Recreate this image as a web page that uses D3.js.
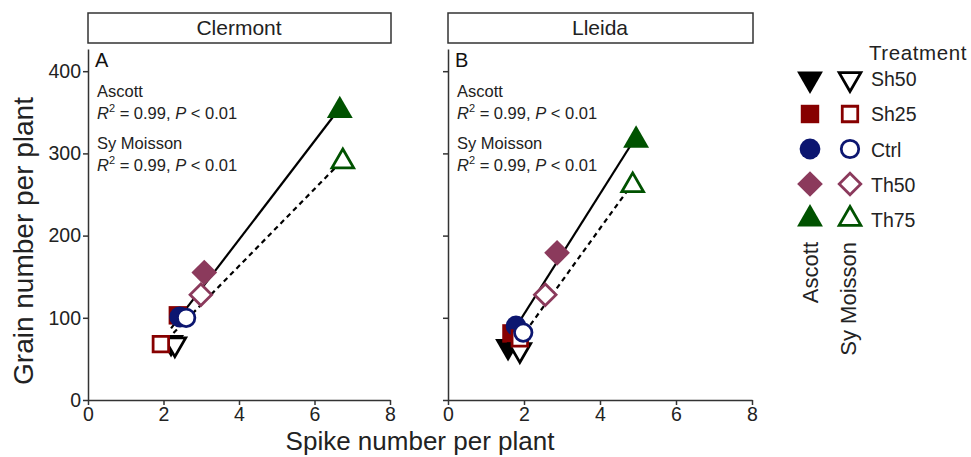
<!DOCTYPE html>
<html>
<head>
<meta charset="utf-8">
<script src="https://cdn.jsdelivr.net/npm/d3@7"></script>
<style>
  body { margin: 0; background: #fff; }
  svg { font-family: "Liberation Sans", Arial, sans-serif; }
  .axis path, .axis line { stroke: #333; stroke-width: 1.5px; }
  .axis text { font-size: 19.5px; fill: #222; font-family: "Liberation Sans", Arial, sans-serif; }
</style>
</head>
<body>
<svg width="971" height="457"></svg>
<script>
// data
const sites = ["Clermont", "Lleida"];
const panelTags = ["A", "B"];
const treatments = ["Sh50", "Sh25", "Ctrl", "Th50", "Th75"];
const cultivars = ["Ascott", "Sy Moisson"];
const treatColors = ["#000000", "#870000", "#0c1670", "#8b3a5c", "#005200"];

// spike number per plant [site][cultivar][treatment]
const spikes = [
  [[2.2, 2.38, 2.43, 3.08, 6.67], [2.3, 1.93, 2.6, 2.99, 6.75]],
  [[1.58, 1.67, 1.79, 2.87, 4.95], [1.89, 1.89, 1.98, 2.56, 4.86]]
];
// grain number per plant [site][cultivar][treatment]
const grains = [
  [[70, 103, 101, 155, 352], [68, 68, 100, 128, 290]],
  [[65, 81, 90, 179, 316], [61, 75, 82, 128, 261]]
];
const statLabel = "= 0.99, ";

const svg = d3.select("svg");
const panelX = [[88, 390], [448, 752]];
const y = d3.scaleLinear().domain([0, 427]).range([400, 49]);
const xTicks = [0, 2, 4, 6, 8];
const yTicks = [0, 100, 200, 300, 400];

function shape(t) {
  if (t === 0) return d3.symbol().type(d3.symbolTriangle).size(290)();
  if (t === 1) return d3.symbol().type(d3.symbolSquare).size(340)();
  if (t === 2) return d3.symbol().type(d3.symbolCircle).size(340)();
  if (t === 3) return d3.symbol().type(d3.symbolSquare).size(330)();
  return d3.symbol().type(d3.symbolTriangle).size(290)();
}
function rot(t) { return t === 0 ? 180 : (t === 3 ? 45 : 0); }

function drawMark(g, cx, cy, t, open) {
  g.append("path")
    .attr("d", shape(t))
    .attr("transform", `translate(${cx},${cy}) rotate(${rot(t)}) scale(${open ? 0.84 : 1})`)
    .attr("fill", open ? "#fff" : treatColors[t])
    .attr("stroke", treatColors[t])
    .attr("stroke-width", open ? 3.3 : 0);
}

function fit(xs, ys) {
  const mx = d3.mean(xs), my = d3.mean(ys);
  let sxy = 0, sxx = 0;
  xs.forEach((v, i) => { sxy += (v - mx) * (ys[i] - my); sxx += (v - mx) * (v - mx); });
  const b = sxy / sxx;
  return { a: my - b * mx, b: b };
}

sites.forEach((site, s) => {
  const x = d3.scaleLinear().domain([0, 8]).range(panelX[s]);
  const g = svg.append("g");

  // strip
  g.append("rect")
    .attr("x", panelX[s][0]).attr("y", 13)
    .attr("width", panelX[s][1] - panelX[s][0] + 1).attr("height", 30)
    .attr("fill", "#fff").attr("stroke", "#333").attr("stroke-width", 1.5);
  g.append("text")
    .attr("x", (panelX[s][0] + panelX[s][1]) / 2).attr("y", 35)
    .attr("text-anchor", "middle").attr("font-size", 21).attr("fill", "#222")
    .text(site);

  // axes
  g.append("g").attr("class", "axis")
    .attr("transform", "translate(0,400)")
    .call(d3.axisBottom(x).tickValues(xTicks).tickSize(5).tickSizeOuter(0).tickPadding(2));
  const ya = g.append("g").attr("class", "axis")
    .attr("transform", `translate(${panelX[s][0]},0)`)
    .call(d3.axisLeft(y).tickValues(yTicks).tickSize(5).tickSizeOuter(0).tickPadding(2));
  if (s === 1) ya.selectAll("text").remove();

  // regression lines
  cultivars.forEach((c, k) => {
    const f = fit(spikes[s][k], grains[s][k]);
    const ext = d3.extent(spikes[s][k]);
    g.append("line")
      .attr("x1", x(ext[0])).attr("y1", y(f.a + f.b * ext[0]))
      .attr("x2", x(ext[1])).attr("y2", y(f.a + f.b * ext[1]))
      .attr("stroke", "#000").attr("stroke-width", 2.2)
      .attr("stroke-dasharray", k === 1 ? "5,4" : null);
  });

  // points
  cultivars.forEach((c, k) => {
    treatments.forEach((t, i) => {
      drawMark(g, x(spikes[s][k][i]), y(grains[s][k][i]), i, k === 1);
    });
  });

  // annotations
  const tx = panelX[s][0] + 7;
  g.append("text").attr("x", tx).attr("y", 67).attr("font-size", 20).attr("fill", "#111").text(panelTags[s]);
  cultivars.forEach((c, k) => {
    const by = 97 + k * 52;
    g.append("text").attr("x", tx + 2).attr("y", by).attr("font-size", 16.5).attr("fill", "#222").text(c);
    const t = g.append("text").attr("x", tx + 2).attr("y", by + 22).attr("font-size", 16.5).attr("fill", "#222");
    t.append("tspan").attr("font-style", "italic").text("R");
    t.append("tspan").attr("font-size", 11).attr("dy", -7).text("2");
    t.append("tspan").attr("dy", 7).text(" " + statLabel);
    t.append("tspan").attr("font-style", "italic").text("P");
    t.append("tspan").text(" < 0.01");
  });
});

// axis titles
svg.append("text")
  .attr("transform", "translate(33,241) rotate(-90)")
  .attr("text-anchor", "middle").attr("font-size", 28).attr("fill", "#222")
  .text("Grain number per plant");
svg.append("text")
  .attr("x", 420).attr("y", 450)
  .attr("text-anchor", "middle").attr("font-size", 26).attr("fill", "#222")
  .text("Spike number per plant");

// legend
const leg = svg.append("g");
leg.append("text").attr("x", 869).attr("y", 60).attr("font-size", 20.5).attr("letter-spacing", 0.6).attr("fill", "#222").text("Treatment");
treatments.forEach((t, i) => {
  const cy = 79 + i * 35;
  drawMark(leg, 810, cy, i, false);
  drawMark(leg, 850, cy, i, true);
  leg.append("text").attr("x", 871).attr("y", 79 + i * 35.3 + 7).attr("font-size", 19.5).attr("fill", "#222").text(t);
});
cultivars.forEach((c, k) => {
  leg.append("text")
    .attr("transform", `translate(${818 + k * 38},242) rotate(-90)`)
    .attr("text-anchor", "end").attr("font-size", 22).attr("fill", "#222")
    .text(c);
});
</script>
</body>
</html>
